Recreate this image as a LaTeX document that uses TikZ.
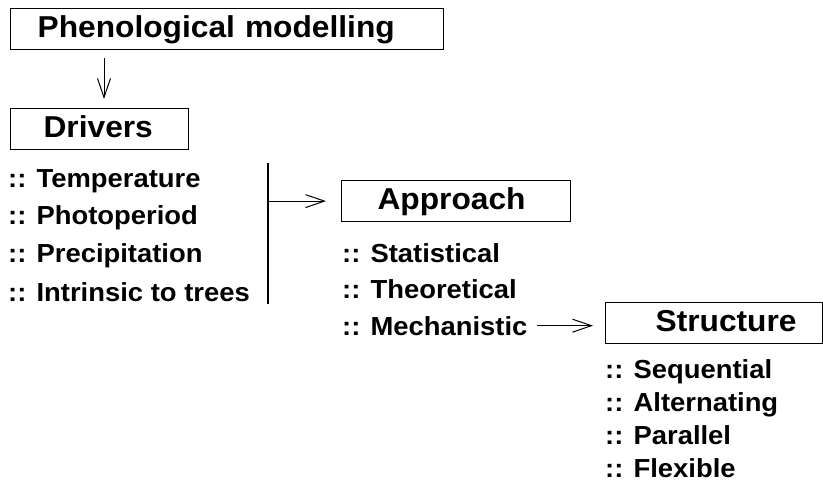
\documentclass[tikz,border=0pt]{standalone}
\usepackage{fontspec}
\newfontfamily\diagfont{Liberation Sans}[FakeStretch=1.05]
\usetikzlibrary{arrows.meta}

\tikzset{
  headbox/.style={draw, line width=1.2pt, font=\diagfont\bfseries\fontsize{30.2}{32}\selectfont,
    align=left, inner xsep=0pt, inner ysep=0pt, text height=22pt, text depth=5pt,
    minimum height=41pt, anchor=north west},
  item/.style={font=\diagfont\bfseries\fontsize{26.1}{30}\selectfont, inner sep=0pt, anchor=base west},
  arr/.style={line width=1pt, -{Straight Barb[length=19pt,width=13pt]}}
}

\begin{document}
\begin{tikzpicture}[x=1pt,y=-1pt]
\useasboundingbox (0,0) rectangle (823,483);

\node[headbox, text width=433pt] (model) at (10,8) {\hspace*{27pt}Phenological modelling};
\node[headbox, text width=178pt] (drivers) at (10,108) {\hspace*{33pt}Drivers};
\node[headbox, text width=229pt] (approach) at (341,180) {\hspace*{36pt}Approach};
\node[headbox, text width=217pt] (structure) at (605,302) {\hspace*{50pt}Structure};

% drivers
\node[item] (d1) at (8,187) {:: Temperature};
\node[item] (d2) at (8,224) {:: Photoperiod};
\node[item] (d3) at (8,262) {:: Precipitation};
\node[item] (d4) at (8,301) {:: Intrinsic to trees};

% approach
\node[item] (a1) at (342,262) {:: Statistical};
\node[item] (a2) at (342,298) {:: Theoretical};
\node[item] (a3) at (342,335) {:: Mechanistic};

% structure
\node[item] (s1) at (605,378) {:: Sequential};
\node[item] (s2) at (605,411) {:: Alternating};
\node[item] (s3) at (605,444) {:: Parallel};
\node[item] (s4) at (605,477) {:: Flexible};

\coordinate (brtop) at (268,163);
\coordinate (brbot) at (268,304);
\draw[line width=1.2pt] (brtop) -- (brbot);

\draw[arr] ([shift={(94,8)}]model.south west) -- ([shift={(94,-9)}]drivers.north west);
\draw[arr, shorten >=15pt] (approach.west -| brtop) -- (approach.west);
\draw[arr, shorten <=9pt, shorten >=12pt] (a3.east) -- (a3.east -| structure.west);
\end{tikzpicture}
\end{document}
